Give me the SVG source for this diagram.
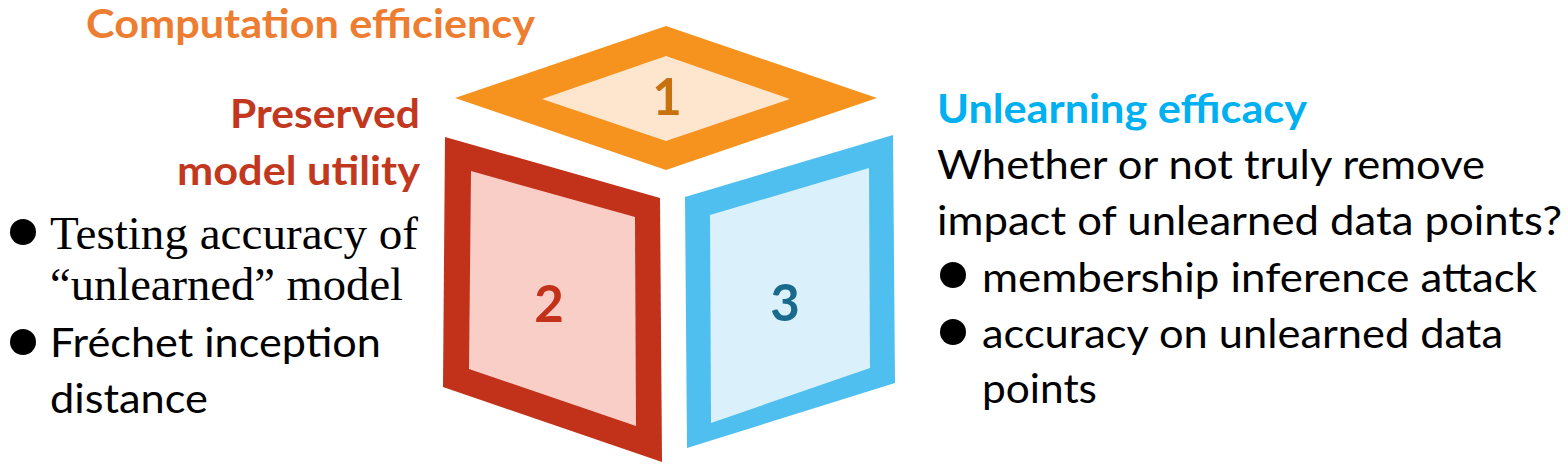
<svg xmlns="http://www.w3.org/2000/svg" width="1568" height="471" viewBox="0 0 1568 471">
  <style>
    .sans { font-family: Lato, "Open Sans", "Liberation Sans", sans-serif; }
    .head { font-family: Lato, "Open Sans", "Liberation Sans", sans-serif; font-weight: bold; font-size: 41px; }
    .body { font-family: Lato, "Open Sans", "Liberation Sans", sans-serif; font-size: 41px; fill: #000; }
    .serif { font-family: "Liberation Serif", "Times New Roman", serif; font-size: 47px; fill: #000; }
    .num { font-family: Lato, "Open Sans", "Liberation Sans", sans-serif; font-weight: bold; font-size: 51px; text-anchor: middle; }
    .bullet { fill: #000; }
  </style>
  <rect width="1568" height="471" fill="#ffffff"/>

  <g id="face-top">
    <polygon points="455,98 666,26 877,98 666,170" fill="#F6931F"/>
    <polygon points="542,99 666,56 790,99 666,141" fill="#FDE5CE"/>
    <text class="num" x="667" y="115" fill="#C8720F">1</text>
  </g>

  <g id="face-left">
    <polygon points="445,137 660,198 662,462 443,387" fill="#C2311A"/>
    <polygon points="471,171 635,217 636,426 469,369" fill="#F9CEC7"/>
    <text class="num" x="549" y="322" fill="#C2311A">2</text>
  </g>

  <g id="face-right">
    <polygon points="685,197 893,135 895,383 687,448" fill="#4EBFEE"/>
    <polygon points="710,215 869,168 870,368 711,423" fill="#DAF0FA"/>
    <text class="num" x="785" y="321" fill="#1A6A8E">3</text>
  </g>

  <g id="label-computation">
    <text class="head" x="86" y="38" fill="#ED7D31" textLength="449" lengthAdjust="spacingAndGlyphs">Computation efficiency</text>
  </g>

  <g id="label-utility">
    <text class="head" x="420" y="128" fill="#C2381E" text-anchor="end" textLength="190" lengthAdjust="spacingAndGlyphs">Preserved</text>
    <text class="head" x="420" y="185" fill="#C2381E" text-anchor="end" textLength="243" lengthAdjust="spacingAndGlyphs">model utility</text>
    <circle class="bullet" cx="23" cy="232" r="13"/>
    <text class="serif" x="50" y="249" textLength="368" lengthAdjust="spacingAndGlyphs">Testing accuracy of</text>
    <text class="serif" x="50" y="300" textLength="353" lengthAdjust="spacingAndGlyphs">“unlearned” model</text>
    <circle class="bullet" cx="23" cy="342" r="13"/>
    <text class="body" x="50" y="357" textLength="331" lengthAdjust="spacingAndGlyphs">Fréchet inception</text>
    <text class="body" x="50" y="413" textLength="158" lengthAdjust="spacingAndGlyphs">distance</text>
  </g>

  <g id="label-efficacy">
    <text class="head" x="937" y="123" fill="#00B0F0" textLength="370" lengthAdjust="spacingAndGlyphs">Unlearning efficacy</text>
    <text class="body" x="937" y="179" textLength="548" lengthAdjust="spacingAndGlyphs">Whether or not truly remove</text>
    <text class="body" x="937" y="235" textLength="625" lengthAdjust="spacingAndGlyphs">impact of unlearned data points?</text>
    <circle class="bullet" cx="953" cy="275" r="13"/>
    <text class="body" x="982" y="292" textLength="555" lengthAdjust="spacingAndGlyphs">membership inference attack</text>
    <circle class="bullet" cx="953" cy="332" r="13"/>
    <text class="body" x="982" y="348" textLength="521" lengthAdjust="spacingAndGlyphs">accuracy on unlearned data</text>
    <text class="body" x="982" y="403" textLength="115" lengthAdjust="spacingAndGlyphs">points</text>
  </g>

  <g id="connectors"/>
</svg>
